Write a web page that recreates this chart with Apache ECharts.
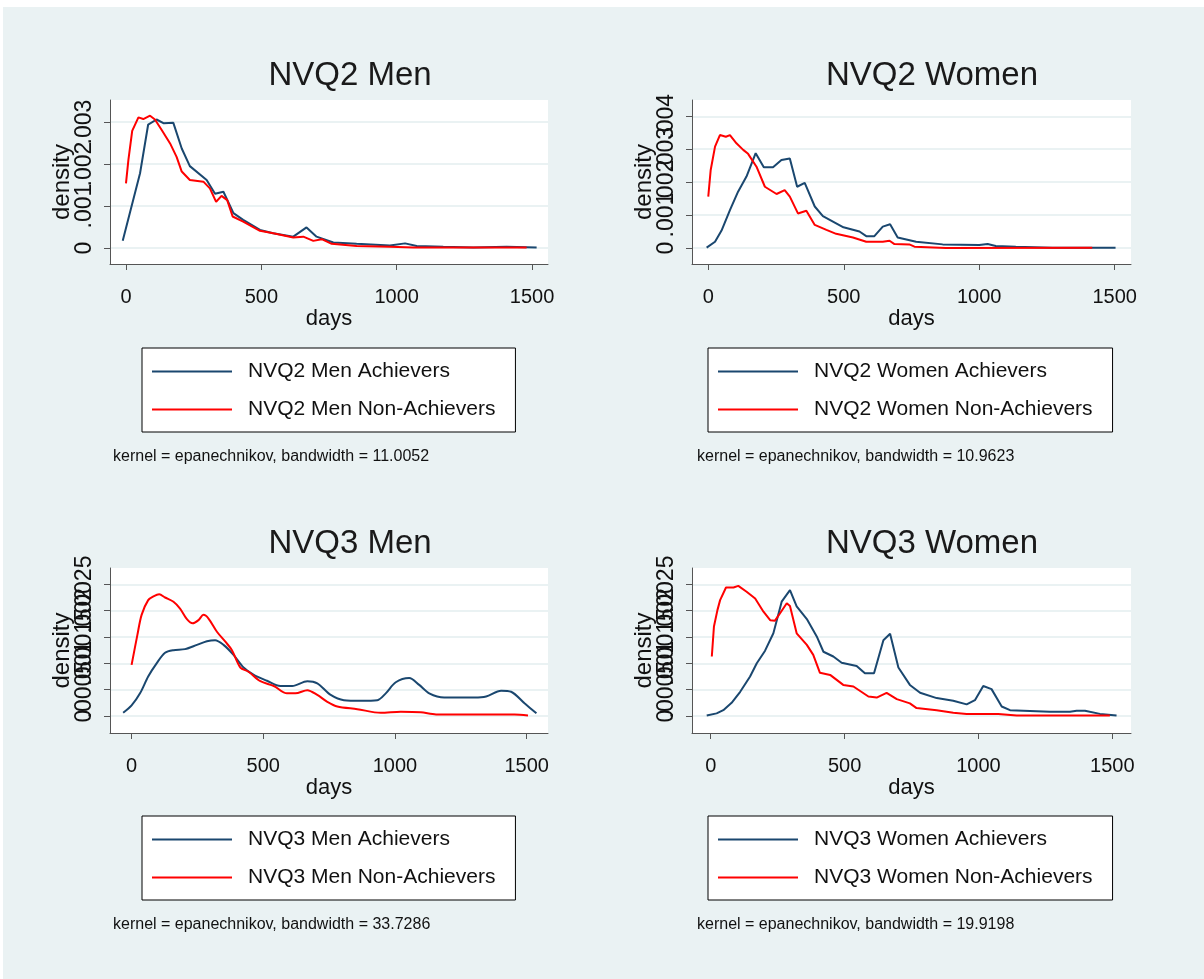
<!DOCTYPE html>
<html>
<head>
<meta charset="utf-8">
<script src="https://cdn.jsdelivr.net/npm/echarts@6/dist/echarts.min.js"></script>
<style>
  html, body { margin:0; padding:0; background:#ffffff; }
  #bg { position:absolute; left:3px; top:7px; width:1201px; height:972px; background:#EAF2F3; }
  #chart { position:absolute; left:0; top:0; width:1204px; height:979px; }
</style>
</head>
<body>
<div id="bg"></div>
<div id="chart"></div>
<script>
// ---------------- DATA ----------------
const panelTitles = ['NVQ2 Men', 'NVQ2 Women', 'NVQ3 Men', 'NVQ3 Women'];
const kernelNotes = [
  'kernel = epanechnikov, bandwidth = 11.0052',
  'kernel = epanechnikov, bandwidth = 10.9623',
  'kernel = epanechnikov, bandwidth = 33.7286',
  'kernel = epanechnikov, bandwidth = 19.9198'
];
const seriesNames = [
  ['NVQ2 Men Achievers', 'NVQ2 Men Non-Achievers'],
  ['NVQ2 Women Achievers', 'NVQ2 Women Non-Achievers'],
  ['NVQ3 Men Achievers', 'NVQ3 Men Non-Achievers'],
  ['NVQ3 Women Achievers', 'NVQ3 Women Non-Achievers']
];
const xTickValues = [0, 500, 1000, 1500];
const xTickLabels = ['0', '500', '1000', '1500'];
const yTickValuesNVQ2Men = [0, 0.001, 0.002, 0.003];
const yTickLabelsNVQ2Men = ['0', '.001', '.002', '.003'];
const yTickValuesNVQ2Women = [0, 0.001, 0.002, 0.003, 0.004];
const yTickLabelsNVQ2Women = ['0', '.001', '.002', '.003', '.004'];
const yTickValuesNVQ3 = [0, 0.0005, 0.001, 0.0015, 0.002, 0.0025];
const yTickLabelsNVQ3 = ['0', '.0005', '.001', '.0015', '.002', '.0025'];

// [days, density]
const nvq2MenAchievers = [
  [-12,0.000175],[52,0.00178],[82,0.00294],[113,0.00306],[140,0.00297],[175,0.00298],
  [206,0.00237],[236,0.00195],[298,0.00162],[329,0.00129],[360,0.00134],[397,0.00083],
  [433,0.00067],[495,0.00043],[544,0.00035],[618,0.00027],[667,0.00049],[704,0.00027],
  [766,0.00013],[852,0.0001],[975,0.00006],[1031,0.00011],[1074,0.00005],[1172,0.00003],
  [1283,0.00001],[1406,0.00003],[1517,0.00001]
];
const nvq2MenNonAchievers = [
  [0,0.00154],[9,0.0021],[23,0.00279],[46,0.00311],[64,0.00307],[89,0.00315],[107,0.00306],
  [132,0.00281],[163,0.00249],[187,0.00217],[206,0.00182],[236,0.00162],[286,0.00158],
  [310,0.00142],[333,0.0011],[353,0.00124],[374,0.00114],[394,0.00075],[433,0.00063],
  [495,0.00041],[544,0.00035],[618,0.00025],[655,0.00027],[692,0.00017],[723,0.00021],
  [760,0.0001],[852,0.00005],[975,0.00003],[1062,0.00001],[1480,0.00001]
];
const nvq2WomenAchievers = [
  [-6,0.00001],[25,0.00019],[49,0.00053],[80,0.00115],[110,0.00171],[141,0.00217],[175,0.00288],
  [205,0.00245],[239,0.00245],[270,0.00267],[301,0.00272],[328,0.00186],[356,0.00198],
  [393,0.00126],[423,0.00097],[499,0.00063],[558,0.0005],[583,0.00036],[613,0.00036],
  [644,0.00065],[671,0.00072],[699,0.00032],[767,0.00019],[865,0.00011],[1000,0.00009],
  [1031,0.00012],[1061,0.00006],[1135,0.00004],[1270,0.00001],[1503,0.00001]
];
const nvq2WomenNonAchievers = [
  [0,0.00156],[9,0.00237],[25,0.00308],[43,0.00343],[65,0.00338],[80,0.00343],[104,0.00318],
  [129,0.00298],[147,0.00286],[178,0.00247],[209,0.00186],[252,0.00164],[282,0.00176],
  [301,0.00156],[331,0.00105],[362,0.00113],[393,0.0007],[436,0.00055],[472,0.00043],
  [534,0.00032],[583,0.00019],[644,0.00019],[669,0.00022],[687,0.00012],[742,0.00011],
  [761,0.00004],[877,0.0],[1417,0.00001]
];
const nvq3MenAchievers = [
  [-32,0.00006],[0,0.0002],[32,0.00043],[63,0.00075],[95,0.001],[127,0.0012],[159,0.00125],
  [203,0.00127],[248,0.00135],[286,0.00142],[317,0.00144],[349,0.00135],[387,0.00116],
  [425,0.00092],[464,0.00078],[514,0.00067],[565,0.00057],[610,0.00057],[667,0.00066],
  [705,0.00062],[756,0.0004],[806,0.0003],[870,0.00029],[933,0.0003],[965,0.00043],
  [1003,0.00064],[1054,0.00072],[1092,0.00059],[1130,0.00043],[1187,0.00035],[1302,0.00035],
  [1346,0.00037],[1403,0.00048],[1441,0.00046],[1492,0.00024],[1537,0.00005]
];
const nvq3MenNonAchievers = [
  [0,0.00097],[22,0.00154],[38,0.00192],[63,0.0022],[83,0.00227],[105,0.00231],[127,0.00225],
  [159,0.00217],[184,0.00204],[210,0.00184],[232,0.00176],[254,0.00182],[273,0.00192],
  [292,0.00185],[324,0.0016],[356,0.00141],[381,0.00125],[413,0.00092],[444,0.00084],
  [489,0.00066],[540,0.00057],[590,0.00043],[622,0.00043],[667,0.00049],[705,0.0004],
  [743,0.00027],[781,0.00018],[857,0.00013],[946,0.00006],[1022,0.00008],[1098,0.00007],
  [1156,0.00003],[1454,0.00003],[1505,0.00001]
];
const nvq3WomenAchievers = [
  [-15,0.00001],[22,0.00005],[47,0.00011],[78,0.00025],[110,0.00046],[147,0.00075],[172,0.001],
  [203,0.00124],[234,0.00157],[265,0.00217],[296,0.00239],[321,0.00208],[359,0.00184],
  [396,0.00151],[421,0.00122],[458,0.00113],[489,0.00101],[545,0.00095],[576,0.00081],
  [610,0.00081],[645,0.00144],[670,0.00156],[701,0.00092],[744,0.00059],[782,0.00044],
  [844,0.00034],[906,0.00029],[956,0.00022],[987,0.0003],[1018,0.00057],[1049,0.00051],
  [1087,0.00018],[1118,0.00011],[1267,0.00008],[1342,0.00008],[1367,0.0001],[1398,0.0001],
  [1454,0.00004],[1516,0.00001]
];
const nvq3WomenNonAchievers = [
  [4,0.00113],[12,0.0017],[25,0.00201],[35,0.0022],[57,0.00244],[85,0.00244],[103,0.00247],
  [134,0.00236],[166,0.00223],[197,0.00198],[222,0.00182],[240,0.00181],[259,0.00195],
  [284,0.00214],[296,0.00209],[321,0.00157],[359,0.00135],[383,0.00116],[408,0.00082],
  [446,0.00078],[495,0.00059],[533,0.00056],[589,0.00037],[620,0.00035],[657,0.00044],
  [695,0.00032],[744,0.00024],[769,0.00015],[844,0.00011],[906,0.00006],[956,0.00004],
  [1074,0.00004],[1143,0.00001],[1491,0.00001]
];

// ---------------- LAYOUT ----------------
const FONT = 'Liberation Sans, Arial, sans-serif';
const BLUE = '#1A476F', RED = '#FF0000', GRIDC = '#EAF2F3', AXC = '#555555';
const panels = [
  { grid:{left:110, top:100, width:438, height:164}, xr:[-59,1559], yr:[-0.000381,0.003524],
    yv:yTickValuesNVQ2Men, yl:yTickLabelsNVQ2Men, data:[nvq2MenAchievers,nvq2MenNonAchievers],
    titleX:350, titleY:59, legend:{left:142, top:348}, note:{left:113, top:449}, smooth:false },
  { grid:{left:692, top:100, width:439, height:164}, xr:[-60,1560], yr:[-0.000486,0.004495],
    yv:yTickValuesNVQ2Women, yl:yTickLabelsNVQ2Women, data:[nvq2WomenAchievers,nvq2WomenNonAchievers],
    titleX:932, titleY:59, legend:{left:708, top:348}, note:{left:697, top:449}, smooth:false },
  { grid:{left:110, top:568, width:438, height:165}, xr:[-82,1581], yr:[-0.000323,0.00281],
    yv:yTickValuesNVQ3, yl:yTickLabelsNVQ3, data:[nvq3MenAchievers,nvq3MenNonAchievers],
    titleX:350, titleY:527, legend:{left:142, top:816}, note:{left:113, top:917}, smooth:0.3 },
  { grid:{left:692, top:568, width:439, height:165}, xr:[-70,1570], yr:[-0.000323,0.00281],
    yv:yTickValuesNVQ3, yl:yTickLabelsNVQ3, data:[nvq3WomenAchievers,nvq3WomenNonAchievers],
    titleX:932, titleY:527, legend:{left:708, top:816}, note:{left:697, top:917}, smooth:false }
];

function labelFor(values, labels) {
  return function (v) {
    for (let i = 0; i < values.length; i++) {
      if (Math.abs(values[i] - v) < 1e-9) return labels[i];
    }
    return '';
  };
}

const option = {
  animation: false,
  backgroundColor: 'transparent',
  textStyle: { fontFamily: FONT },
  title: [], grid: [], xAxis: [], yAxis: [], legend: [], series: []
};

panels.forEach((p, i) => {
  option.title.push({
    text: panelTitles[i], left: p.titleX, top: p.titleY, textAlign: 'center', padding: 0,
    textStyle: { fontFamily: FONT, fontSize: 33, fontWeight: 'normal', color: '#1a1a1a' }
  });
  option.title.push({
    text: kernelNotes[i], left: p.note.left, top: p.note.top, padding: 0,
    textStyle: { fontFamily: FONT, fontSize: 16, fontWeight: 'normal', color: '#111111' }
  });
  option.grid.push(Object.assign({
    show: true, backgroundColor: '#ffffff', borderWidth: 0, containLabel: false, outerBoundsMode: 'none'
  }, p.grid));
  option.xAxis.push({
    type: 'value', gridIndex: i, min: p.xr[0], max: p.xr[1],
    name: 'days', nameLocation: 'middle', nameGap: 44,
    nameTextStyle: { fontFamily: FONT, fontSize: 22, color: '#111111' },
    axisLine: { show: true, onZero: false, lineStyle: { color: AXC, width: 1 } },
    axisTick: { show: true, length: 6, customValues: xTickValues, lineStyle: { color: AXC } },
    axisLabel: { customValues: xTickValues, formatter: labelFor(xTickValues, xTickLabels),
      showMinLabel: true, showMaxLabel: true,
      fontFamily: FONT, fontSize: 20, color: '#111111', margin: 23 },
    splitLine: { show: false }
  });
  // main y axis: line, ticks, gridlines, name
  const mainY = option.yAxis.length;
  option.yAxis.push({
    type: 'value', gridIndex: i, position: 'left', min: p.yr[0], max: p.yr[1],
    name: 'density', nameLocation: 'middle', nameGap: 36, nameRotate: 90,
    nameTextStyle: { fontFamily: FONT, fontSize: 24, color: '#111111' },
    axisLine: { show: true, onZero: false, lineStyle: { color: AXC, width: 1 } },
    axisTick: { show: true, length: 6, customValues: p.yv, lineStyle: { color: AXC } },
    axisLabel: { show: false, customValues: p.yv },
    splitLine: { show: true, lineStyle: { color: GRIDC, width: 2 } }
  });
  // one label-only axis per tick, so Stata-like overlapping labels all stay visible
  p.yv.forEach((v) => {
    option.yAxis.push({
      type: 'value', gridIndex: i, position: 'left', min: p.yr[0], max: p.yr[1],
      axisLine: { show: false }, axisTick: { show: false }, splitLine: { show: false },
      axisLabel: { customValues: [v], formatter: labelFor(p.yv, p.yl), rotate: 90,
        showMinLabel: true, showMaxLabel: true, hideOverlap: false,
        fontFamily: FONT, fontSize: 23, color: '#111111', margin: 14 }
    });
  });
  const colors = [BLUE, RED];
  option.legend.push({
    left: p.legend.left, top: p.legend.top, orient: 'vertical',
    data: seriesNames[i].map((n, k) => ({ name: n, icon: 'rect', itemStyle: { color: colors[k] } })),
    backgroundColor: '#ffffff', borderColor: '#000000', borderWidth: 1, borderRadius: 0,
    padding: [13, 20, 12, 10], itemGap: 17, itemWidth: 80, itemHeight: 2,
    selectedMode: false,
    textStyle: { fontFamily: FONT, fontSize: 21, color: '#111111', padding: [0, 0, 0, 11], lineHeight: 21 }
  });
  p.data.forEach((d, k) => {
    option.series.push({
      type: 'line', name: seriesNames[i][k], xAxisIndex: i, yAxisIndex: mainY,
      data: d, symbol: 'none', showSymbol: false, smooth: p.smooth,
      lineStyle: { color: colors[k], width: 2 }, itemStyle: { color: colors[k] },
      z: 2 + k
    });
  });
});

const chart = echarts.init(document.getElementById('chart'), null, { renderer: 'canvas' });
chart.setOption(option);
</script>
</body>
</html>
